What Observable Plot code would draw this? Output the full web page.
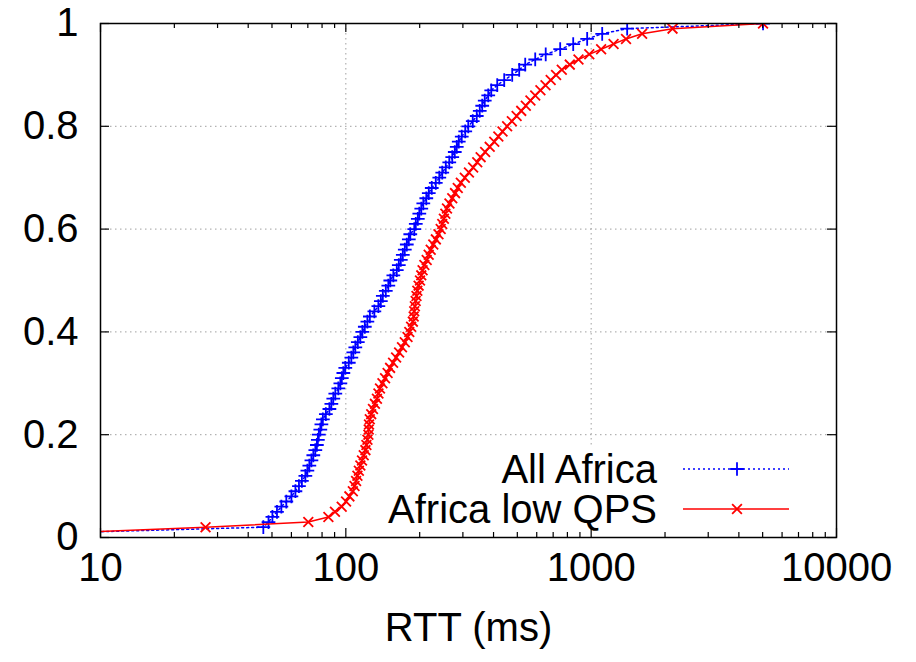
<!DOCTYPE html>
<html><head><meta charset="utf-8">
<script src="https://cdn.jsdelivr.net/npm/d3@7"></script>
<script src="https://cdn.jsdelivr.net/npm/@observablehq/plot@0.6"></script>
<style>body{margin:0;background:#fff}</style>
</head><body><div id="chart"></div>
<script>
// CDF levels (fraction of queries)
const levels = [0.01,0.02,0.03,0.04,0.05,0.06,0.07,0.08,0.09,0.10,
0.11,0.12,0.13,0.14,0.15,0.16,0.17,0.18,0.19,0.20,
0.21,0.22,0.23,0.24,0.25,0.26,0.27,0.28,0.29,0.30,
0.31,0.32,0.33,0.34,0.35,0.36,0.37,0.38,0.39,0.40,
0.41,0.42,0.43,0.44,0.45,0.46,0.47,0.48,0.49,0.50,
0.51,0.52,0.53,0.54,0.55,0.56,0.57,0.58,0.59,0.60,
0.61,0.62,0.63,0.64,0.65,0.66,0.67,0.68,0.69,0.70,
0.71,0.72,0.73,0.74,0.75,0.76,0.77,0.78,0.79,0.80,
0.81,0.82,0.83,0.84,0.85,0.86,0.87,0.88,0.89,0.90,
0.91,0.92,0.93,0.94,0.95,0.96,0.97,0.98,0.99,1.00];

// RTT (ms) at each level, "All Africa"
const allAfrica = [8,46.1,48.4,50.2,52.4,54.6,57.2,60.0,62.3,64.4,
66.2,68.4,69.7,71.0,72.4,73.7,75.1,76.2,76.9,77.6,
78.7,79.5,80.6,82.9,85.7,87.3,88.9,90.6,93.2,95.0,
96.3,97.7,99.5,102.8,105.3,107.3,109.3,111.9,114.6,116.8,
119.5,122.4,125.3,130.7,135.7,138.9,141.5,145.5,149.0,151.8,
156.2,161.3,164.4,167.5,170.7,173.9,177.2,180.6,183.1,190.1,
192.8,196.5,199.3,203.0,206.9,212.8,217.8,224.0,232.6,240.4,
247.2,255.5,264.0,271.5,278.0,283.2,288.6,296.8,306.7,315.5,
329.1,341.7,351.4,359.7,368.3,380.6,391.5,414.1,442.2,476.6,
509.0,538.5,591.5,652.7,747.7,844.9,963.2,1109,1402,5018];

// RTT (ms) at each level, "Africa low QPS"
const lowQps = [8,26.8,70.3,84.9,90.3,96.2,100.2,103.4,106.8,108.5,
110.1,111.5,113.0,114.6,116.4,118.3,120.2,121.3,122.5,123.6,
124.0,124.3,125.2,126.9,129.0,131.4,133.9,135.8,137.8,141.0,
144.5,148.0,151.5,155.8,160.3,164.9,169.4,173.9,178.4,181.4,
184.5,187.6,189.1,190.0,191.2,192.6,194.1,195.6,198.0,200.6,
203.0,205.5,209.0,213.6,217.6,221.8,227.2,232.8,238.6,243.6,
247.2,251.0,254.5,258.4,264.5,271.5,278.7,285.9,294.3,305.5,
317.6,330.3,343.3,354.4,369.7,385.8,402.7,418.4,435.2,454.4,
474.9,496.7,518.7,541.6,565.5,591.5,621.1,651.5,683.9,719.4,
759.0,818.1,887.8,982.4,1098,1234,1387,1613,2146,5018];

const seriesNames = ["All Africa", "Africa low QPS"];
const seriesColors = ["#0000ff", "#ff0000"];
const seriesSymbols = ["plus", "times"];
const seriesDash = ["2,3", null];

const xMajor = [10, 100, 1000, 10000];
const xLabels = ["10", "100", "1000", "10000"];
const xMinor = [20,30,40,50,60,70,80,90,200,300,400,500,600,700,800,900,2000,3000,4000,5000,6000,7000,8000,9000];
const xGrid = [100, 1000];
const yTicks = [0, 0.2, 0.4, 0.6, 0.8, 1];
const yLabels = ["0", "0.2", "0.4", "0.6", "0.8", "1"];
const yGrid = [0.2, 0.4, 0.6, 0.8];
const xTitle = "RTT (ms)";

const seriesData = [allAfrica, lowQps].map(vals => vals.map((v, i) => ({rtt: v, cdf: levels[i]})));

const W = 916, H = 662, mL = 100, mR = 80, mT = 23, mB = 125;
const pw = W - mL - mR, ph = H - mT - mB;
const fam = "'Liberation Sans', Arial, Helvetica, sans-serif";
const FS = 40;

const seriesMarks = seriesData.flatMap((d, s) => [
  Plot.line(d, {x: "rtt", y: "cdf", stroke: seriesColors[s], strokeWidth: 1.5,
    strokeDasharray: seriesDash[s] || undefined, clip: true}),
  Plot.dot(d, {x: "rtt", y: "cdf", symbol: seriesSymbols[s], r: 4.5, stroke: seriesColors[s],
    strokeWidth: 1.8, clip: true})
]);

const chart = Plot.plot({
  width: W, height: H, marginLeft: mL, marginRight: mR, marginTop: mT, marginBottom: mB,
  x: {type: "log", domain: [10, 10000], axis: null},
  y: {domain: [0, 1], axis: null},
  style: {fontFamily: fam, background: "white", overflow: "visible", color: "black"},
  marks: [
    Plot.ruleY(yGrid, {y: d => d, stroke: "#a0a0a0", strokeWidth: 1, strokeDasharray: "1.5,3.5"}),
    Plot.ruleX(xGrid, {x: d => d, insetBottom: 92, stroke: "#a0a0a0", strokeWidth: 1, strokeDasharray: "1.5,3.5"}),
    ...seriesMarks,
    Plot.frame({stroke: "black", strokeWidth: 1.5}),
    Plot.tickX(xMajor, {x: d => d, insetTop: ph - 9, stroke: "black", strokeWidth: 1.2}),
    Plot.tickX(xMajor, {x: d => d, insetBottom: ph - 9, stroke: "black", strokeWidth: 1.2}),
    Plot.tickX(xMinor, {x: d => d, insetTop: ph - 5, stroke: "black", strokeWidth: 1.2}),
    Plot.tickX(xMinor, {x: d => d, insetBottom: ph - 5, stroke: "black", strokeWidth: 1.2}),
    Plot.tickY(yTicks, {y: d => d, insetRight: pw - 9, stroke: "black", strokeWidth: 1.2}),
    Plot.tickY(yTicks, {y: d => d, insetLeft: pw - 9, stroke: "black", strokeWidth: 1.2}),
    Plot.text(xMajor, {x: d => d, text: (d, i) => xLabels[i], frameAnchor: "bottom", dy: 43,
      fontSize: FS, fill: "black"}),
    Plot.text(yTicks, {y: d => d, text: (d, i) => yLabels[i], frameAnchor: "left", textAnchor: "end",
      dx: -22, fontSize: FS, fill: "black"}),
    Plot.text([xTitle], {text: d => d, frameAnchor: "bottom", dy: 103, fontSize: FS, fill: "black"})
  ]
});
document.getElementById("chart").appendChild(chart);

// Key (gnuplot-style, inside the plot, bottom right)
const svg = d3.select(chart);
const key = svg.append("g").attr("font-family", fam).attr("font-size", FS);
const keyRight = W - mR - 179, lineX1 = W - mR - 153, lineX2 = W - mR - 47, markX = W - mR - 99;
const keyRows = [H - mB - 68, H - mB - 28];
const symTypes = {plus: d3.symbolPlus, times: d3.symbolTimes};
seriesNames.forEach((name, s) => {
  const yy = keyRows[s];
  key.append("text").attr("x", keyRight).attr("y", yy).attr("dy", "0.35em")
    .attr("text-anchor", "end").attr("fill", "black").text(name);
  key.append("line").attr("x1", lineX1).attr("x2", lineX2).attr("y1", yy).attr("y2", yy)
    .attr("stroke", seriesColors[s]).attr("stroke-width", 1.5)
    .attr("stroke-dasharray", seriesDash[s]);
  key.append("path").attr("transform", `translate(${markX},${yy})`)
    .attr("d", d3.symbol(symTypes[seriesSymbols[s]], Math.PI * 20.25)())
    .attr("fill", "none").attr("stroke", seriesColors[s]).attr("stroke-width", 1.8);
});
</script>
</body></html>
